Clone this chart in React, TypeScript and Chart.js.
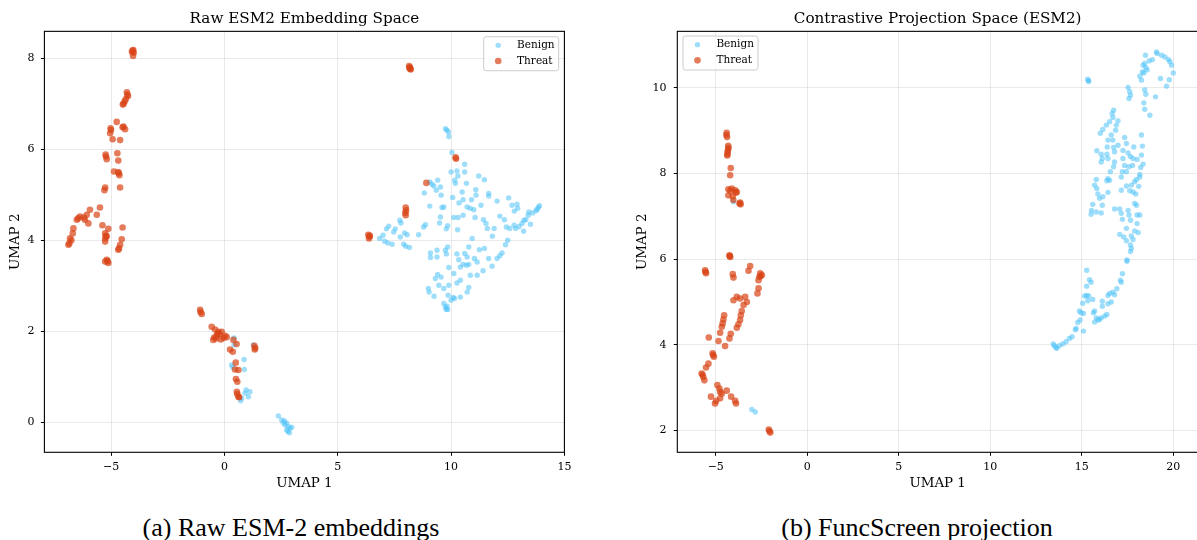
import React, { useEffect, useRef } from "react";
import { Chart, registerables } from "chart.js";

Chart.register(...registerables);

// ---------- DATA ----------
const SERIES_LABELS = ["Benign", "Threat"];

const RAW_TITLE = "Raw ESM2 Embedding Space";
const PROJ_TITLE = "Contrastive Projection Space (ESM2)";
const X_AXIS_LABEL = "UMAP 1";
const Y_AXIS_LABEL = "UMAP 2";
const CAPTION_A = "(a) Raw ESM-2 embeddings";
const CAPTION_B = "(b) FuncScreen projection";

const RAW_X_TICKS = [-5, 0, 5, 10, 15];
const RAW_Y_TICKS = [0, 2, 4, 6, 8];
const PROJ_X_TICKS = [-5, 0, 5, 10, 15, 20];
const PROJ_Y_TICKS = [2, 4, 6, 8, 10];

const RAW_BENIGN: [number, number][] = [
  [9.75, 6.45], [9.82, 6.42], [9.88, 6.38], [9.9, 6.28], [10.04, 5.93],
  [10.0, 5.5], [10.26, 5.52], [10.6, 5.67], [10.3, 5.41], [10.16, 5.32], [10.19, 5.25], [10.6, 5.5],
  [9.06, 5.28], [9.24, 5.19], [9.41, 5.32], [9.35, 5.1], [9.53, 5.17], [9.16, 5.23], [8.82, 5.04], [9.56, 4.99],
  [11.22, 5.41], [11.47, 5.33], [10.68, 5.25], [10.49, 5.06], [11.09, 5.11], [11.66, 5.03], [11.66, 4.97],
  [10.07, 4.94], [10.35, 4.82], [10.53, 4.89], [10.9, 4.89], [11.1, 4.99], [10.71, 4.73], [10.85, 4.7], [11.0, 4.67],
  [11.32, 4.77], [12.03, 4.86], [12.54, 4.93], [12.69, 4.77], [12.91, 4.79], [12.94, 4.7], [12.79, 4.64], [13.21, 4.44], [13.43, 4.62],
  [9.06, 4.75], [9.6, 4.72], [9.68, 4.73], [9.53, 4.51], [9.49, 4.38], [10.12, 4.5], [10.31, 4.5], [10.53, 4.55], [10.29, 4.23],
  [11.06, 4.5], [11.43, 4.45], [11.54, 4.37], [11.6, 4.26], [11.9, 4.26], [11.82, 4.09], [12.15, 4.53], [12.35, 4.45],
  [12.44, 4.29], [12.59, 4.26], [12.85, 4.26], [13.13, 4.37], [12.78, 4.33],
  [9.85, 4.32], [9.79, 4.25], [8.79, 4.29], [8.87, 4.34], [8.57, 4.12],
  [7.74, 4.44], [7.79, 4.38], [7.25, 4.31], [7.15, 4.25], [7.54, 4.25], [7.47, 4.18], [7.0, 4.11], [6.85, 4.04], [7.07, 3.98],
  [7.21, 3.94], [7.4, 3.91], [7.76, 4.07], [7.95, 4.16], [8.06, 4.12], [7.91, 3.91], [8.0, 3.87], [8.16, 3.84],
  [10.93, 4.04], [11.25, 3.79], [11.47, 3.82], [10.78, 3.85], [10.6, 3.71], [10.71, 3.63], [11.03, 3.6], [11.15, 3.52],
  [9.85, 3.85], [9.75, 3.78], [9.79, 3.7], [10.26, 3.7], [10.34, 3.57], [9.38, 3.78], [9.09, 3.72], [9.09, 3.62], [9.38, 3.63],
  [11.66, 3.6], [11.81, 3.43], [12.03, 3.6], [12.15, 3.66], [12.25, 3.72], [12.4, 3.9], [12.5, 4.0],
  [9.9, 3.4], [10.41, 3.41], [10.53, 3.47], [10.68, 3.45], [10.78, 3.47], [10.85, 3.23], [11.15, 3.23], [11.41, 3.33],
  [10.12, 3.27], [10.26, 3.06], [10.41, 3.12], [9.41, 3.25], [9.56, 3.19], [9.31, 3.16], [9.46, 3.01], [9.68, 2.94],
  [9.9, 3.01], [9.87, 2.79], [10.09, 2.74], [10.41, 2.75], [10.71, 2.86], [10.78, 2.96], [9.0, 2.94], [9.03, 2.86],
  [9.25, 2.77], [9.68, 2.61], [9.75, 2.53], [9.85, 2.48], [9.79, 2.48], [10.0, 2.68], [10.15, 2.72], [9.82, 2.55],
  [13.9, 4.76], [13.85, 4.72], [13.8, 4.68], [13.75, 4.65], [13.6, 4.6], [13.4, 4.55], [13.3, 4.45], [13.5, 4.35],
  [13.0, 4.3], [13.2, 4.2],
  [0.43, 1.85], [0.43, 1.7], [1.28, 1.7], [0.87, 1.38], [0.32, 1.26], [0.37, 1.21], [0.88, 1.16], [0.96, 0.71],
  [0.91, 0.64], [1.13, 0.67], [1.06, 0.56], [0.72, 0.47], [0.76, 0.53],
  [2.38, 0.14], [2.53, 0.05], [2.6, -0.01], [2.68, -0.06], [2.75, -0.02], [2.82, -0.1], [2.9, -0.13], [2.75, -0.17],
  [2.87, -0.23], [2.97, -0.11], [2.65, 0.03], [2.8, -0.2],
];

const RAW_THREAT: [number, number][] = [
  [-4.05, 8.17], [-4.0, 8.12], [-4.03, 8.05], [-4.08, 8.14], [-4.02, 8.18],
  [-4.3, 7.25], [-4.25, 7.17], [-4.35, 7.1], [-4.4, 7.05], [-4.48, 6.98], [-4.45, 7.0], [-4.28, 7.2],
  [-4.75, 6.6], [-5.0, 6.42], [-5.04, 6.35], [-4.93, 6.22], [-4.49, 6.48], [-4.38, 6.44], [-4.6, 6.2], [-5.02, 6.46], [-4.45, 6.5],
  [-5.24, 5.88], [-5.19, 5.78], [-5.22, 5.84], [-4.72, 5.91], [-4.68, 5.75], [-4.87, 5.51], [-4.66, 5.47], [-4.63, 5.43],
  [-4.68, 5.5], [-4.6, 5.16], [-5.26, 5.16], [-5.29, 5.1],
  [-5.49, 4.72], [-5.93, 4.67], [-5.63, 4.56], [-6.07, 4.56], [-6.37, 4.52], [-6.51, 4.45], [-6.15, 4.45], [-6.0, 4.37],
  [-6.66, 4.26], [-6.69, 4.15], [-6.81, 4.04], [-6.84, 3.93], [-6.88, 3.9], [-6.45, 4.48], [-6.2, 4.5], [-6.75, 4.0],
  [-5.38, 4.33], [-5.12, 4.25], [-5.26, 4.15], [-5.26, 4.04], [-5.19, 4.08], [-5.26, 3.97], [-4.49, 4.28], [-4.53, 4.02],
  [-4.6, 3.9], [-4.65, 3.82], [-4.68, 3.79], [-5.22, 4.1],
  [-5.19, 3.57], [-5.12, 3.5], [-5.26, 3.53], [-5.15, 3.54],
  [8.15, 7.83], [8.18, 7.8], [8.2, 7.77], [8.22, 7.75], [8.17, 7.78],
  [10.22, 5.79], [10.2, 5.82],
  [8.91, 5.26],
  [8.0, 4.72], [8.02, 4.66], [7.98, 4.6], [8.0, 4.55],
  [6.35, 4.12], [6.4, 4.08], [6.38, 4.04], [6.42, 4.1],
  [-1.07, 2.47], [-1.05, 2.42], [-1.0, 2.38],
  [-0.56, 2.1], [-0.41, 2.04], [-0.26, 1.99], [-0.12, 1.99], [0.03, 1.9], [-0.34, 1.9], [-0.49, 1.81], [-0.16, 1.82],
  [-0.04, 1.85], [0.1, 1.87], [-0.22, 1.94], [-0.37, 1.84], [-0.45, 1.86], [-0.3, 1.95],
  [0.4, 1.81], [0.54, 1.72], [0.25, 1.6], [0.37, 1.55],
  [1.32, 1.68], [1.36, 1.63], [1.34, 1.6],
  [0.5, 1.31], [0.47, 1.16], [0.62, 1.15], [0.51, 0.95], [0.57, 0.89], [0.57, 0.62], [0.62, 0.56], [0.65, 0.55], [0.55, 0.67],
];

const PROJ_BENIGN: [number, number][] = [
  [15.33, 10.2], [15.36, 10.17], [15.38, 10.15],
  [19.08, 10.84], [19.12, 10.8], [19.36, 10.76], [19.54, 10.72], [19.73, 10.66], [19.82, 10.61], [19.91, 10.53],
  [20.0, 10.35], [19.63, 10.04], [19.78, 10.19], [19.3, 10.22],
  [18.48, 10.76], [18.68, 10.63], [18.86, 10.66], [18.35, 10.53], [18.5, 10.47], [18.31, 10.37], [18.57, 10.42],
  [18.44, 10.57], [18.17, 10.27], [18.26, 10.18], [18.39, 10.35],
  [17.53, 10.01], [17.62, 9.91], [17.66, 9.83], [17.58, 9.75],
  [18.44, 9.95], [18.5, 9.85], [19.03, 9.79], [18.39, 9.65], [18.44, 9.5], [18.72, 9.36],
  [16.74, 9.48], [16.66, 9.4], [16.7, 9.31], [16.52, 9.21], [16.34, 9.13], [16.15, 9.03], [16.01, 8.94],
  [16.98, 9.23], [16.89, 9.13], [16.85, 9.01],
  [16.61, 8.9], [16.7, 8.78], [16.43, 8.78], [16.39, 8.62], [16.74, 8.61], [16.79, 8.51], [16.98, 8.66], [17.34, 8.84],
  [17.44, 8.7], [17.84, 8.62], [18.26, 8.9], [18.31, 8.64],
  [15.82, 8.53], [16.06, 8.45], [16.12, 8.35], [16.06, 8.27], [16.37, 8.45], [16.43, 8.35], [16.79, 8.27], [17.25, 8.54],
  [17.53, 8.48], [17.25, 8.35], [17.66, 8.4], [17.8, 8.35], [18.02, 8.33], [18.26, 8.43], [18.35, 8.22], [18.22, 8.14],
  [18.17, 7.98], [18.17, 7.92], [17.99, 7.86], [17.77, 8.19], [17.58, 8.16], [17.34, 8.19], [17.22, 8.04], [17.44, 8.04],
  [17.16, 7.92], [16.74, 8.16], [16.56, 8.04], [16.43, 7.88], [16.37, 7.83], [16.52, 7.84],
  [15.79, 7.86], [15.7, 7.73], [15.82, 7.65], [15.88, 7.52], [15.97, 7.42], [15.6, 7.28], [15.53, 7.14], [15.51, 7.05],
  [16.15, 7.46], [16.12, 7.26], [16.43, 7.56], [15.79, 7.1], [16.06, 7.08], [17.16, 7.61], [17.44, 7.71], [17.71, 7.73],
  [17.62, 7.6], [17.8, 7.57], [17.95, 7.52], [18.11, 7.7], [17.89, 7.81],
  [17.89, 7.3], [17.99, 7.26], [16.79, 7.17], [17.07, 7.17], [17.16, 7.07], [17.22, 6.93], [17.53, 7.14], [17.58, 7.03],
  [17.66, 6.91], [18.02, 7.03], [18.17, 7.03], [18.02, 6.83], [17.44, 6.72], [17.07, 6.58], [17.29, 6.52], [17.44, 6.43],
  [17.71, 6.54], [17.8, 6.46], [17.66, 6.33], [17.71, 6.25], [18.08, 6.62], [17.89, 6.66], [17.47, 5.98],
  [17.66, 6.18], [17.47, 5.95], [17.22, 5.66], [17.11, 5.51], [17.16, 5.46], [16.92, 5.31], [16.7, 5.23], [16.79, 5.17],
  [16.52, 5.2], [16.43, 5.15], [16.61, 5.0], [16.43, 4.96], [16.12, 5.02], [16.12, 4.9], [16.37, 4.71], [16.25, 4.67],
  [16.06, 4.63], [15.97, 4.59], [15.88, 4.58], [15.7, 4.53], [15.79, 4.63], [15.7, 4.79], [15.64, 4.75],
  [15.27, 5.74], [15.42, 5.52], [15.51, 5.46], [15.27, 5.37], [15.15, 5.14], [15.27, 5.15], [15.38, 5.14], [15.6, 5.06],
  [15.33, 5.03], [15.05, 4.97], [14.87, 4.79], [14.96, 4.75], [15.09, 4.73], [14.91, 4.58], [14.78, 4.52], [14.69, 4.38],
  [14.65, 4.35], [15.09, 4.32], [14.47, 4.19], [14.32, 4.15], [14.14, 4.07], [13.96, 4.02], [13.77, 3.98], [13.59, 3.94],
  [13.44, 4.02], [13.5, 3.98], [13.63, 3.92],
  [-4.03, 7.34], [-3.03, 2.49], [-2.84, 2.43],
];

const PROJ_THREAT: [number, number][] = [
  [-4.4, 8.95], [-4.42, 8.9], [-4.38, 8.85], [-4.32, 8.65], [-4.3, 8.6], [-4.33, 8.55], [-4.35, 8.5], [-4.36, 8.45], [-4.37, 8.42],
  [-4.18, 8.13], [-4.21, 7.96],
  [-4.31, 7.63], [-4.12, 7.65], [-3.94, 7.61], [-3.85, 7.57], [-4.31, 7.49], [-4.07, 7.47], [-4.04, 7.38], [-4.2, 7.6], [-3.9, 7.55],
  [-3.67, 7.32], [-3.64, 7.28], [-3.7, 7.3],
  [-4.25, 6.09], [-4.21, 6.05], [-4.23, 6.07],
  [-5.58, 5.74], [-5.53, 5.67], [-5.56, 5.7],
  [-4.07, 5.65], [-4.03, 5.57],
  [-3.12, 5.84], [-3.21, 5.73],
  [-2.57, 5.67], [-2.61, 5.59], [-2.48, 5.63], [-2.66, 5.51], [-2.55, 5.6],
  [-2.66, 5.32], [-2.72, 5.2],
  [-3.85, 5.12], [-3.67, 5.08], [-3.39, 5.12], [-3.3, 5.0], [-4.03, 5.04], [-3.48, 4.93],
  [-3.58, 4.79], [-3.63, 4.69], [-3.67, 4.58], [-3.76, 4.48], [-3.85, 4.4],
  [-4.54, 4.69], [-4.58, 4.59], [-4.62, 4.5], [-4.67, 4.42],
  [-4.76, 4.28], [-4.18, 4.26], [-4.25, 4.15], [-4.85, 4.09], [-4.49, 3.97],
  [-5.38, 4.17],
  [-5.17, 3.8], [-5.1, 3.72], [-5.14, 3.76],
  [-5.4, 3.56], [-5.53, 3.47], [-5.77, 3.33], [-5.68, 3.25], [-5.62, 3.17], [-5.72, 3.3],
  [-4.91, 3.06], [-4.8, 2.98], [-4.76, 2.9], [-4.67, 2.86], [-4.4, 2.93],
  [-5.26, 2.79], [-4.98, 2.69], [-5.04, 2.63], [-4.76, 2.75],
  [-4.16, 2.79], [-3.94, 2.69], [-3.89, 2.63],
  [-2.1, 2.02], [-2.02, 1.95], [-2.06, 1.98],
];

// ---------- STYLE ----------
const BENIGN_COLOR = "rgba(79,195,247,0.55)";
const THREAT_COLOR = "rgba(216,67,21,0.7)";
const SERIF = "'DejaVu Serif', serif";

const fmt = (v: number) => (v < 0 ? "\u2212" + Math.abs(v) : String(v));

const framePlugin = {
  id: "frameLegend",
  afterDraw(chart: any, _args: any, opts: any) {
    const { ctx, chartArea } = chart;
    ctx.save();
    ctx.strokeStyle = "#000";
    ctx.lineWidth = 1.1;
    ctx.strokeRect(chartArea.left, chartArea.top, chartArea.right - chartArea.left, chartArea.bottom - chartArea.top);
    // legend
    const w = opts.width, h = opts.height;
    const x0 = opts.side === "right" ? chartArea.right - opts.inset - w : chartArea.left + opts.inset;
    const y0 = chartArea.top + opts.insetTop;
    ctx.beginPath();
    (ctx as any).roundRect(x0, y0, w, h, 2.5);
    ctx.fillStyle = "rgba(255,255,255,0.8)";
    ctx.fill();
    ctx.strokeStyle = "#cccccc";
    ctx.lineWidth = 1;
    ctx.stroke();
    chart.data.datasets.forEach((ds: any, i: number) => {
      const cy = y0 + opts.rowTop + i * opts.rowGap;
      ctx.beginPath();
      ctx.arc(x0 + opts.markerX, cy, ds.pointRadius, 0, Math.PI * 2);
      ctx.fillStyle = ds.backgroundColor;
      ctx.fill();
      ctx.fillStyle = "#000";
      ctx.font = `10.5px ${SERIF}`;
      ctx.textBaseline = "middle";
      ctx.textAlign = "left";
      ctx.fillText(ds.label, x0 + opts.textX, cy);
    });
    ctx.restore();
  },
};

interface Panel {
  title: string;
  benign: [number, number][];
  threat: [number, number][];
  xMin: number; xMax: number; yMin: number; yMax: number;
  xTicks: number[]; yTicks: number[];
  yAxisWidth: number; padRight: number; yTitlePad: number; yTickPad: number;
  legendSide: string; legendInset: number; legendTop: number;
}

function buildConfig(p: Panel): any {
  return {
    type: "scatter",
    data: {
      datasets: [
        {
          label: SERIES_LABELS[0],
          data: p.benign.map(([x, y]) => ({ x, y })),
          backgroundColor: BENIGN_COLOR,
          borderWidth: 0,
          pointRadius: 2.7,
          pointHoverRadius: 2.7,
          order: 1,
        },
        {
          label: SERIES_LABELS[1],
          data: p.threat.map(([x, y]) => ({ x, y })),
          backgroundColor: THREAT_COLOR,
          borderWidth: 0,
          pointRadius: 3.3,
          pointHoverRadius: 3.3,
          order: 0,
        },
      ],
    },
    options: {
      animation: false,
      responsive: false,
      devicePixelRatio: 1,
      events: [],
      layout: { padding: { left: 0, right: p.padRight, top: 0, bottom: 0 } },
      plugins: {
        legend: { display: false },
        tooltip: { enabled: false },
        title: {
          display: true,
          text: p.title,
          fullSize: false,
          color: "#000",
          font: { family: SERIF, size: 15.2, weight: "normal", lineHeight: 1.2 },
          padding: { top: 10.2, bottom: 2.9 },
        },
        frameLegend: {
          side: p.legendSide,
          inset: p.legendInset,
          insetTop: p.legendTop,
          width: 75,
          height: 34,
          markerX: 14.5,
          textX: 33.4,
          rowTop: 8.6,
          rowGap: 15.7,
        },
      },
      scales: {
        x: {
          type: "linear",
          position: "bottom",
          min: p.xMin,
          max: p.xMax,
          afterBuildTicks: (s: any) => { s.ticks = p.xTicks.map((v) => ({ value: v })); },
          afterFit: (s: any) => { s.height = 47.7; },
          ticks: {
            callback: (v: any) => fmt(Number(v)),
            font: { family: SERIF, size: 11 },
            color: "#000",
            padding: 5,
            maxRotation: 0,
            autoSkip: false,
          },
          grid: { color: "rgba(176,176,176,0.3)", lineWidth: 0.9, tickColor: "#000", tickLength: 3.5, tickWidth: 1 },
          border: { display: false },
          title: {
            display: true,
            text: X_AXIS_LABEL,
            color: "#000",
            font: { family: SERIF, size: 13.4 },
            padding: { top: 0, bottom: 8.9 },
          },
        },
        y: {
          type: "linear",
          position: "left",
          min: p.yMin,
          max: p.yMax,
          afterBuildTicks: (s: any) => { s.ticks = p.yTicks.map((v) => ({ value: v })); },
          afterFit: (s: any) => { s.width = p.yAxisWidth; },
          ticks: {
            callback: (v: any) => fmt(Number(v)),
            font: { family: SERIF, size: 11 },
            color: "#000",
            padding: p.yTickPad,
            autoSkip: false,
          },
          grid: { color: "rgba(176,176,176,0.3)", lineWidth: 0.9, tickColor: "#000", tickLength: 3.5, tickWidth: 1 },
          border: { display: false },
          title: {
            display: true,
            text: Y_AXIS_LABEL,
            color: "#000",
            font: { family: SERIF, size: 13.4 },
            padding: { top: p.yTitlePad, bottom: 0 },
          },
        },
      },
    },
    plugins: [framePlugin],
  };
}

const PANEL_A: Panel = {
  title: RAW_TITLE,
  benign: RAW_BENIGN,
  threat: RAW_THREAT,
  xMin: -7.94, xMax: 15.0, yMin: -0.66, yMax: 8.59,
  xTicks: RAW_X_TICKS, yTicks: RAW_Y_TICKS,
  yAxisWidth: 44.4, padRight: 35.6, yTitlePad: 7.3, yTickPad: 6.5,
  legendSide: "right", legendInset: 5.7, legendTop: 5.4,
};

const PANEL_B: Panel = {
  title: PROJ_TITLE,
  benign: PROJ_BENIGN,
  threat: PROJ_THREAT,
  xMin: -7.1, xMax: 21.35, yMin: 1.49, yMax: 11.32,
  xTicks: PROJ_X_TICKS, yTicks: PROJ_Y_TICKS,
  yAxisWidth: 77.3, padRight: 22, yTitlePad: 34.2, yTickPad: 7.2,
  legendSide: "left", legendInset: 5.7, legendTop: 4.7,
};

function ScatterPanel({ panel, left, width }: { panel: Panel; left: number; width: number }) {
  const ref = useRef<HTMLCanvasElement>(null);
  useEffect(() => {
    if (!ref.current) return;
    const chart = new Chart(ref.current, buildConfig(panel));
    return () => chart.destroy();
  }, [panel]);
  return (
    <canvas
      ref={ref}
      width={width}
      height={500}
      style={{ position: "absolute", left, top: 0, width, height: 500 }}
    />
  );
}

const captionStyle: React.CSSProperties = {
  position: "absolute",
  top: 515,
  fontFamily: "'Liberation Serif', 'Times New Roman', serif",
  fontSize: 26,
  lineHeight: "26px",
  color: "#000",
  whiteSpace: "nowrap",
  textAlign: "center",
  width: 400,
};

export default function App() {
  return (
    <div
      style={{
        position: "fixed",
        left: 0,
        top: 0,
        width: 1197,
        height: 540,
        overflow: "hidden",
        background: "#fff",
      }}
    >
      <ScatterPanel panel={PANEL_A} left={0} width={600} />
      <ScatterPanel panel={PANEL_B} left={600} width={620} />
      <div style={{ ...captionStyle, left: 291 - 200 }}>{CAPTION_A}</div>
      <div style={{ ...captionStyle, left: 917 - 200 }}>{CAPTION_B}</div>
    </div>
  );
}
